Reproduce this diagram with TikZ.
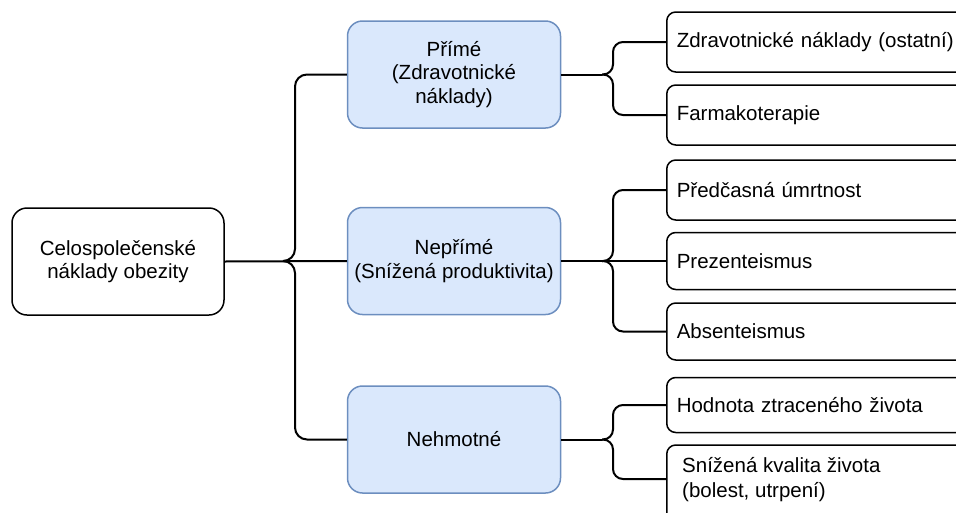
\documentclass[tikz,border=0pt]{standalone}
\usepackage{fontspec}
\setmainfont{Liberation Sans}
\definecolor{midfill}{HTML}{DAE8FC}
\definecolor{midline}{HTML}{6C8EBF}
\begin{document}
\begin{tikzpicture}[x=1pt,y=-1pt,
  font=\fontsize{20.5}{23.5}\selectfont,
  rootbox/.style={draw=black, line width=1.5pt, rounded corners=15pt, fill=white,
    minimum width=212pt, minimum height=107pt, align=center, inner sep=0pt},
  midbox/.style={draw=midline, fill=midfill, line width=1.5pt, rounded corners=15pt,
    minimum width=213pt, minimum height=107pt, align=center, inner sep=0pt},
  leafbox/.style={draw=black, line width=1.5pt, rounded corners=9pt, fill=white,
    anchor=west, minimum width=320pt, text width=300pt, inner xsep=10pt, inner ysep=0pt, align=left},
  leaftext/.style={anchor=west, align=left, inner sep=0pt, font=\fontsize{20.5}{25}\selectfont},
  conn/.style={draw=black, line width=2pt},
  brace/.style={conn, rounded corners=10pt}
]
\useasboundingbox (0,0) rectangle (956,512);

% nodes
\node[rootbox] (root) at (118,261.5) {Celospolečenské\\náklady obezity};
\node[midbox] (mid1) at (454,74.5) {Přímé\\(Zdravotnické\\náklady)};
\node[midbox] (mid2) at (454,261) {Nepřímé\\(Snížená produktivita)};
\node[midbox] (mid3) at (454,439.5) {Nehmotné};

\node[leafbox, minimum height=60pt] (ra) at (666,42) {Zdravotnické náklady (ostatní)};
\node[leafbox, minimum height=60pt] (rb) at (666,115) {Farmakoterapie};
\node[leafbox, minimum height=60pt] (rc) at (666,190) {Předčasná úmrtnost};
\node[leafbox, minimum height=57pt] (rd) at (666,261) {Prezenteismus};
\node[leafbox, minimum height=57pt] (re) at (666,331.5) {Absenteismus};
\node[leafbox, minimum height=55pt] (rf) at (666,405) {Hodnota ztraceného života};
\node[leafbox, minimum height=84pt] (rg) at (666,487) {};
\node[leaftext] (rgt) at (682,480) {Snížená kvalita života\\(bolest, utrpení)};
\coordinate (gin) at (666,479);

% left brace
\coordinate (c0) at (283,261);
\coordinate (v0) at (295,261);
\draw[conn] (root.east) -- (mid2.west);
\draw[conn, rounded corners=12pt] (mid1.west) -- (mid1.west -| v0) -- (v0) -- (c0);
\draw[conn, rounded corners=12pt] (mid3.west) -- (mid3.west -| v0) -- (v0) -- (c0);

% brace 1
\coordinate (c1) at (602,74.5);
\coordinate (v1) at (613,74.5);
\draw[conn] (mid1.east) -- (c1);
\draw[brace] (ra.west) -- (ra.west -| v1) -- (v1) -- (c1);
\draw[brace] (rb.west) -- (rb.west -| v1) -- (v1) -- (c1);

% brace 2
\coordinate (c2) at (602,261);
\coordinate (v2) at (613,261);
\draw[conn] (mid2.east) -- (rd.west);
\draw[brace] (rc.west) -- (rc.west -| v2) -- (v2) -- (c2);
\draw[brace] (re.west) -- (re.west -| v2) -- (v2) -- (c2);

% brace 3
\coordinate (c3) at (602,439.5);
\coordinate (v3) at (613,439.5);
\draw[conn] (mid3.east) -- (c3);
\draw[brace] (rf.west) -- (rf.west -| v3) -- (v3) -- (c3);
\draw[brace] (gin -| rg.west) -- (gin -| v3) -- (v3) -- (c3);
\end{tikzpicture}
\end{document}
